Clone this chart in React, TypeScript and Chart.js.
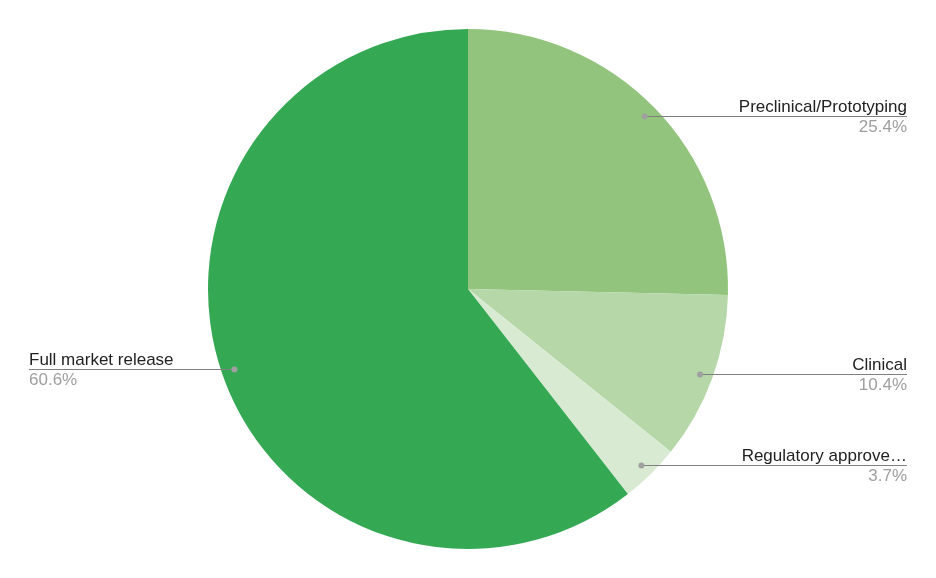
import React, { useEffect, useRef } from "react";
import { Chart, registerables } from "chart.js";

Chart.register(...registerables);

const categories = ["Preclinical/Prototyping", "Clinical", "Regulatory approve…", "Full market release"];
const values = [25.4, 10.4, 3.7, 60.6];
const colors = ["#93c47d", "#b6d7a8", "#d9ead3", "#34a853"];

const FONT = '"Liberation Sans", Arial, Helvetica, sans-serif';

const leaderPlugin = {
  id: "leaderLabels",
  afterDatasetsDraw(chart: any) {
    const ctx = chart.ctx as CanvasRenderingContext2D;
    const meta = chart.getDatasetMeta(0);
    const width = chart.width;
    const edge = 29;
    ctx.save();
    meta.data.forEach((arc: any, i: number) => {
      const p = arc.getProps(["x", "y", "startAngle", "endAngle", "outerRadius"], true);
      const mid = (p.startAngle + p.endAngle) / 2;
      const r = p.outerRadius * 0.95;
      const dx = p.x + Math.cos(mid) * r;
      const dy = Math.round(p.y + Math.sin(mid) * r) + 0.5;
      const right = Math.cos(mid) >= 0;
      const endX = right ? width - edge : edge;
      ctx.strokeStyle = "#808080";
      ctx.lineWidth = 1;
      ctx.beginPath();
      ctx.moveTo(dx, dy);
      ctx.lineTo(endX, dy);
      ctx.stroke();
      ctx.fillStyle = "#a0a0a0";
      ctx.beginPath();
      ctx.arc(dx, dy, 3, 0, Math.PI * 2);
      ctx.fill();
      ctx.textAlign = right ? "right" : "left";
      ctx.textBaseline = "alphabetic";
      ctx.font = `17px ${FONT}`;
      ctx.fillStyle = "#222222";
      ctx.fillText(categories[i], endX, dy - 5);
      ctx.fillStyle = "#9e9e9e";
      ctx.fillText(values[i].toFixed(1) + "%", endX, dy + 15);
    });
    ctx.restore();
  },
};

export default function App() {
  const ref = useRef<HTMLCanvasElement | null>(null);
  useEffect(() => {
    if (!ref.current) return;
    const chart = new Chart(ref.current, {
      type: "pie",
      data: {
        labels: categories,
        datasets: [
          {
            data: values,
            backgroundColor: colors,
            borderWidth: 0,
          },
        ],
      },
      options: {
        responsive: false,
        animation: false,
        devicePixelRatio: 1,
        layout: { padding: { top: 29, bottom: 29, left: 0, right: 0 } },
        plugins: {
          legend: { display: false },
          tooltip: { enabled: false },
        },
      },
      plugins: [leaderPlugin],
    });
    return () => chart.destroy();
  }, []);
  return (
    <div style={{ position: "absolute", left: 0, top: 0, width: 936, height: 578, background: "#ffffff" }}>
      <canvas ref={ref} width={936} height={578} />
    </div>
  );
}
